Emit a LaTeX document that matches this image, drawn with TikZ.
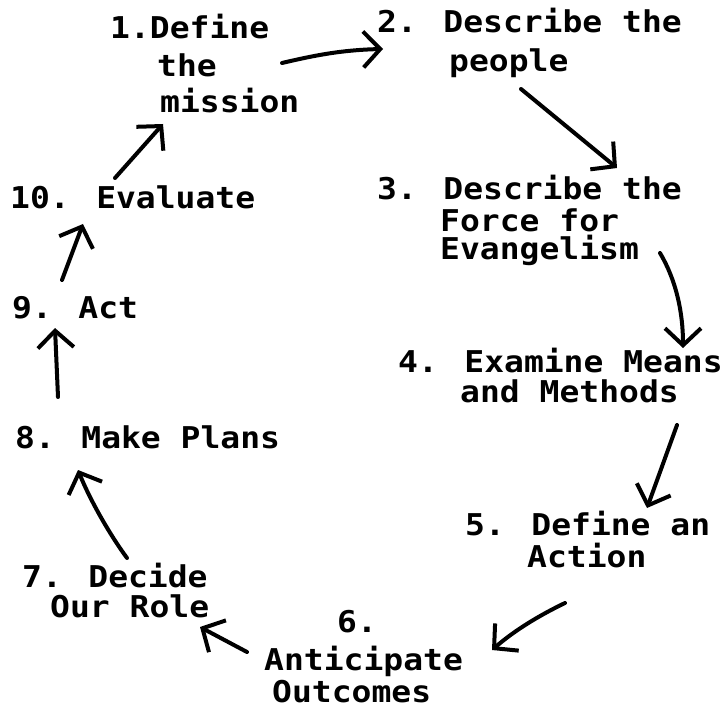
\documentclass[tikz,border=0pt]{standalone}
\usepackage{fontspec}
\usetikzlibrary{arrows.meta}
\newfontfamily\stepfont[FakeStretch=1.1]{DejaVu Sans Mono}
\begin{document}
\begin{tikzpicture}[x=1pt,y=-1pt,
  lbl/.style={anchor=base west, inner sep=0pt,
    font=\stepfont\bfseries\fontsize{30}{30}\selectfont},
  flow/.style={line width=4pt, line cap=round, line join=round,
    -{Straight Barb[length=17pt,width=36pt,line width=4pt]}}]
\useasboundingbox (0,0) rectangle (722,708);

% steps of the cycle
\node[lbl] (s1a) at (110,39)  {1.Define};
\node[lbl] (s1b) at (157,77)  {the};
\node[lbl] (s1c) at (160,113) {mission};
\node[lbl] (s2a) at (377,33)  {2. Describe the};
\node[lbl] (s2b) at (449,72)  {people};
\node[lbl] (s3a) at (377,200) {3. Describe the};
\node[lbl] (s3b) at (440,232) {Force for};
\node[lbl] (s3c) at (440,260) {Evangelism};
\node[lbl] (s4a) at (398,372) {4. Examine Means};
\node[lbl] (s4b) at (460,402) {and Methods};
\node[lbl] (s5a) at (465,535) {5. Define an};
\node[lbl] (s5b) at (527,567) {Action};
\node[lbl] (s6a) at (337,632) {6.};
\node[lbl] (s6b) at (264,670) {Anticipate};
\node[lbl] (s6c) at (272,702) {Outcomes};
\node[lbl] (s7a) at (22,587)  {7. Decide};
\node[lbl] (s7b) at (50,617)  {Our Role};
\node[lbl] (s8)  at (15,448)  {8. Make Plans};
\node[lbl] (s9)  at (12,318)  {9. Act};
\node[lbl] (s10) at (10,209)  {10. Evaluate};

% end points of the hand-drawn arrows
\coordinate (a1) at (282,63);  \coordinate (b1) at (383,49);
\coordinate (a2) at (521,89);  \coordinate (b2) at (617,168);
\coordinate (a3) at (660,253); \coordinate (b3) at (683,348);
\coordinate (a4) at (677,425); \coordinate (b4) at (647,508);
\coordinate (a5) at (565,603); \coordinate (b5) at (492,650);
\coordinate (a6) at (247,652); \coordinate (b6) at (200,627);
\coordinate (a7) at (127,558); \coordinate (b7) at (78,470);
\coordinate (a8) at (58,397);  \coordinate (b8) at (55,328);
\coordinate (a9) at (62,280);  \coordinate (b9) at (83,224);
\coordinate (a10) at (115,178); \coordinate (b10) at (163,124);

\draw[flow] (a1) .. controls (312,56) and (340,50) .. (b1);
\draw[flow] (a2) -- (b2);
\draw[flow] (a3) .. controls (676,280) and (683,312) .. (b3);
\draw[flow] (a4) -- (b4);
\draw[flow] (a5) .. controls (540,615) and (515,630) .. (b5);
\draw[flow] (a6) -- (b6);
\draw[flow] (a7) .. controls (110,535) and (90,500) .. (b7);
\draw[flow] (a8) -- (b8);
\draw[flow] (a9) -- (b9);
\draw[flow] (a10) -- (b10);
\end{tikzpicture}
\end{document}
